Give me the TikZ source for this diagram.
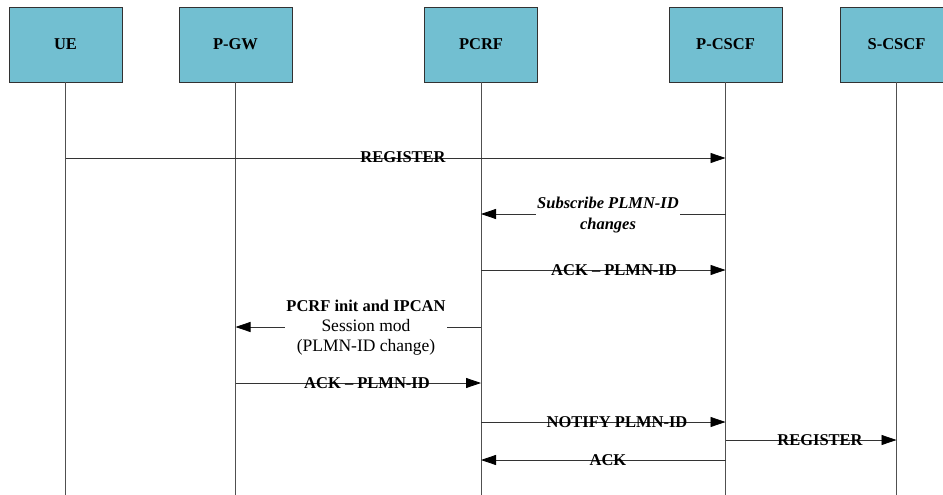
\documentclass[tikz,border=0pt]{standalone}
\usepackage{fontspec}
\setmainfont{Liberation Serif}
\usetikzlibrary{arrows.meta}
\definecolor{boxfill}{RGB}{114,191,209}
\definecolor{boxline}{RGB}{50,50,50}
\definecolor{lifecol}{RGB}{80,80,80}
\begin{document}
\begin{tikzpicture}[x=1pt,y=-1pt,
  entity/.style={draw=boxline,line width=0.9pt,fill=boxfill,minimum width=113pt,minimum height=75pt,inner sep=0pt,font=\fontsize{16.5}{20}\selectfont\bfseries},
  life/.style={draw=lifecol,line width=0.8pt},
  msg/.style={draw=black!80,line width=0.8pt,-{Triangle[length=15pt,width=10pt,fill=black,color=black]}},
  lbl/.style={inner sep=0pt,anchor=base,font=\fontsize{16.5}{20}\selectfont\bfseries},
  wlbl/.style={inner sep=1pt,fill=white,align=center}]
\useasboundingbox (0,0) rectangle (943,495);
% entities
\node[entity] (ue) at (65.5,44.5) {UE};
\node[entity] (pgw) at (235.5,44.5) {P-GW};
\node[entity] (pcrf) at (481,44.5) {PCRF};
\node[entity] (pcscf) at (725.5,44.5) {P-CSCF};
\node[entity] (scscf) at (896.5,44.5) {S-CSCF};
% lifelines
\coordinate (bot) at (0,495);
\draw[life] (ue.south) -- (ue |- bot);
\draw[life] (pgw.south) -- (pgw |- bot);
\draw[life] (pcrf.south) -- (pcrf |- bot);
\draw[life] (pcscf.south) -- (pcscf |- bot);
\draw[life] (scscf.south) -- (scscf |- bot);
% message rows
\coordinate (r1) at (0,158);
\coordinate (r2) at (0,214);
\coordinate (r3) at (0,270);
\coordinate (r4) at (0,327);
\coordinate (r5) at (0,383);
\coordinate (r6) at (0,422);
\coordinate (r7) at (0,440);
\coordinate (r8) at (0,460);
% 1 REGISTER
\draw[msg] (ue |- r1) -- (pcscf |- r1);
\node[lbl] (t1) at (403,162.5) {REGISTER};
% 2 Subscribe
\draw[msg] (pcscf |- r2) -- (pcrf |- r2);
\node[wlbl,font=\fontsize{16.5}{21}\selectfont\bfseries\itshape] (t2) at (608,215) {Subscribe PLMN-ID\\changes};
% 3 ACK - PLMN-ID
\draw[msg] (pcrf |- r3) -- (pcscf |- r3);
\node[lbl] (t3) at (614,275) {ACK – PLMN-ID};
% 4 PCRF init
\draw[msg] (pcrf |- r4) -- (pgw |- r4);
\node[wlbl,font=\fontsize{17.5}{20}\selectfont] (t4) at (366,328) {{\fontsize{16.5}{20}\selectfont\bfseries PCRF init and IPCAN}\\Session mod\\(PLMN-ID change)};
% 5 ACK - PLMN-ID
\draw[msg] (pgw |- r5) -- (pcrf |- r5);
\node[lbl] (t5) at (367,388) {ACK – PLMN-ID};
% 6 NOTIFY
\draw[msg] (pcrf |- r6) -- (pcscf |- r6);
\node[lbl] (t6) at (617,427) {NOTIFY PLMN-ID};
% 7 REGISTER
\draw[msg] (pcscf |- r7) -- (scscf |- r7);
\node[lbl] (t7) at (820,445) {REGISTER};
% 8 ACK
\draw[msg] (pcscf |- r8) -- (pcrf |- r8);
\node[lbl] (t8) at (608,465) {ACK};
\end{tikzpicture}
\end{document}
